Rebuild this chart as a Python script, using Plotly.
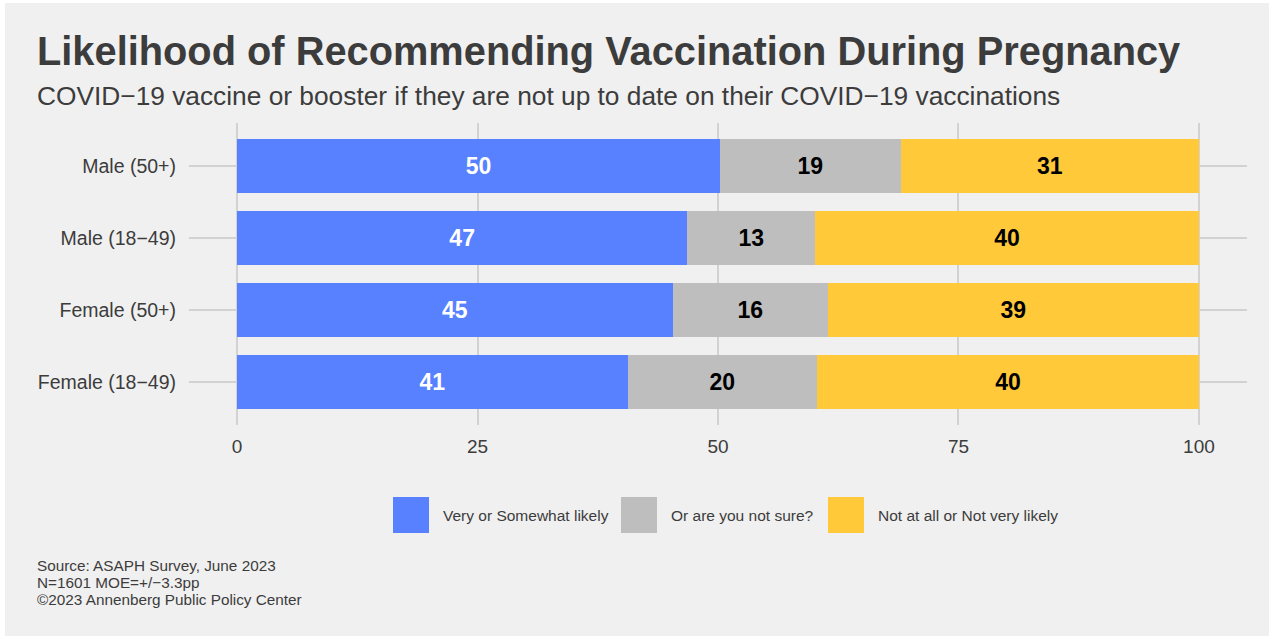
import plotly.graph_objects as go

# ---- data ----
categories = ["Male (50+)", "Male (18\u221249)", "Female (50+)", "Female (18\u221249)"]
series_names = ["Very or Somewhat likely", "Or are you not sure?", "Not at all or Not very likely"]
likely = [50.2, 46.8, 45.3, 40.6]
not_sure = [18.8, 13.3, 16.1, 19.7]
not_likely = [31.0, 39.9, 38.6, 39.7]
x_ticks = [0, 25, 50, 75, 100]
caption_lines = ["Source: ASAPH Survey, June 2023", "N=1601 MOE=+/\u22123.3pp",
                 "\u00a92023 Annenberg Public Policy Center"]

colors = ["#5781FF", "#BEBEBE", "#FFC93A"]
text_colors = ["white", "black", "black"]
series_values = [likely, not_sure, not_likely]

W, H = 1269, 636
L, R, T, B = 189, 22, 123, 211
PW, PH = W - L - R, H - T - B


def px(x):
    return (x - L) / PW


def py(y):
    return (H - B - y) / PH


FONT = "Liberation Sans, Arial, Helvetica, sans-serif"
TXT = "#3C3C3C"

fig = go.Figure()
for name, vals, col, tcol in zip(series_names, series_values, colors, text_colors):
    fig.add_trace(go.Bar(
        y=categories, x=vals, name=name, orientation="h",
        marker=dict(color=col, line=dict(width=0)),
        width=0.75,
        text=[f"{v:.0f}" for v in vals],
        textposition="inside", insidetextanchor="middle",
        textfont=dict(family=FONT, size=23, color=tcol, weight="bold"),
        constraintext="none",
        showlegend=False, hoverinfo="x+y",
    ))

shapes = []
annotations = []

# white border strips (top and left)
shapes.append(dict(type="rect", xref="paper", yref="paper", x0=px(0), x1=px(W), y0=py(0), y1=py(3),
                   fillcolor="white", line=dict(width=0), layer="below"))
shapes.append(dict(type="rect", xref="paper", yref="paper", x0=px(0), x1=px(5), y0=py(0), y1=py(H),
                   fillcolor="white", line=dict(width=0), layer="below"))

# title / subtitle
annotations.append(dict(text="<b>Likelihood of Recommending Vaccination During Pregnancy</b>",
                        xref="paper", yref="paper", x=px(35), y=py(51), xanchor="left", yanchor="middle",
                        showarrow=False, font=dict(family=FONT, size=39.8, color=TXT)))
annotations.append(dict(text="COVID\u221219 vaccine or booster if they are not up to date on their COVID\u221219 vaccinations",
                        xref="paper", yref="paper", x=px(35), y=py(96), xanchor="left", yanchor="middle",
                        showarrow=False, font=dict(family=FONT, size=26.3, color=TXT)))

# caption
for line, ly in zip(caption_lines, [565, 582, 599]):
    annotations.append(dict(text=line, xref="paper", yref="paper", x=px(35), y=py(ly),
                            xanchor="left", yanchor="middle", align="left", showarrow=False,
                            font=dict(family=FONT, size=15.3, color=TXT)))

# legend (manual, large keys)
key_x = [393, 621, 828]
for name, col, kx in zip(series_names, colors, key_x):
    shapes.append(dict(type="rect", xref="paper", yref="paper", x0=px(kx), x1=px(kx + 36),
                       y0=py(533), y1=py(497), fillcolor=col, line=dict(width=0)))
    annotations.append(dict(text=name, xref="paper", yref="paper", x=px(kx + 48), y=py(515),
                            xanchor="left", yanchor="middle", showarrow=False,
                            font=dict(family=FONT, size=15.5, color=TXT)))

fig.update_layout(
    barmode="stack",
    width=W, height=H,
    margin=dict(l=L, r=R, t=T, b=B, pad=0),
    paper_bgcolor="#F0F0F0", plot_bgcolor="#F0F0F0",
    font=dict(family=FONT, color=TXT),
    bargap=0.25,
    shapes=shapes, annotations=annotations,
    xaxis=dict(range=[-5, 105], tickvals=x_ticks, ticktext=[str(v) for v in x_ticks],
               showgrid=True, gridcolor="#D2D2D2", gridwidth=2, zeroline=False,
               showline=False, ticks="", ticklabelstandoff=8,
               tickfont=dict(size=19, color=TXT), fixedrange=True),
    yaxis=dict(categoryorder="array", categoryarray=categories[::-1], range=[-0.6, 3.6],
               showgrid=True, gridcolor="#D2D2D2", gridwidth=2, zeroline=False,
               showline=False, ticks="", ticklabelstandoff=12,
               tickfont=dict(size=19.5, color=TXT), fixedrange=True),
)

fig.write_html("out.html")
